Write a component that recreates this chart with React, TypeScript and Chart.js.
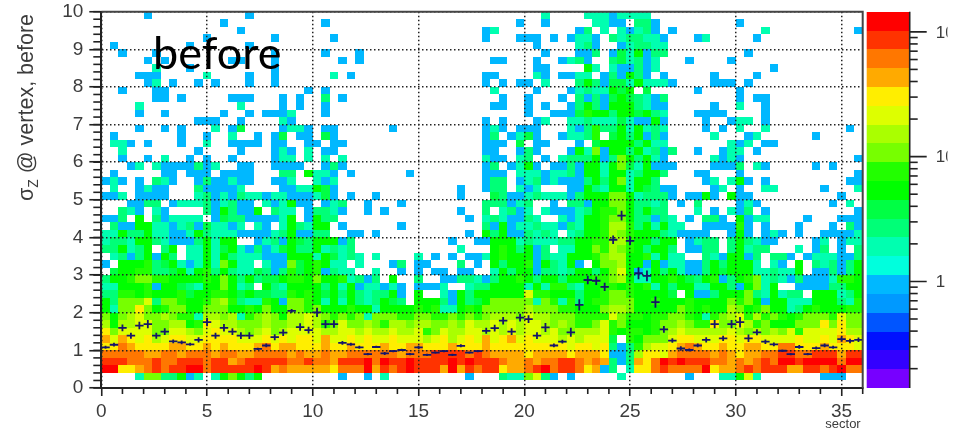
import { useEffect, useRef } from "react";
import { Chart, registerables } from "chart.js";

Chart.register(...registerables);

// Bin widths of the 2D histogram
const xBinWidth = 0.4;
const yBinWidth = 0.2;
const xMax = 36;
const yMax = 10;

// Heat-map levels, one string per y bin, from y = 10 down to y = 0 ('.' = empty); spaces only group columns
const levelRows = [
  ".....b.... .......b.. .......... .......... .......... ..d....ddd bdddd..... .......... ..........",
  ".......... ....b..... ......b... .......... .........b ..b.....dd bb.eeb.... .....b.... ..........",
  ".......... ......b... .......... .......... .....bd... ......be.d .dbdeb.b.. ........d. .........b",
  ".......... ..b....... b......b.. .......... .....b...b bb.b.bddb. edeeddb... bd.....b.. ..........",
  ".b........ b......b.. .......... .......... .......... .b....deb. .bdeedd... .......... ..........",
  "..b...b... .......... b.....b... b......... .......... ..b...bbe. bfdgbee... ......b... ..........",
  ".....b.b.. .....bb... b.......b. b......... ......bb.. .b..bdeb.. efdebd...b ....b..... ..........",
  "......d... b......... b......... .......... .......... .bb....gd. dbbebd.... .........b ..........",
  "....bbb... ..d....b.. b......d.b .......... .....bb... .db.bbdd.b ebgeb.b... ..b....b.. ..........",
  ".....bd.b. .b.b...b.. b......... .......... .....b.b.b b.d...egeb ffdgdddb.. ..bbb.b... ..........",
  "..b...bb.. .......... ....b.b... .......... ......d... .b...bdedd gfg.f..... b....b.... ..........",
  "......bb.b .....bbb.. .b.b..e.b. .......... .......b.. b...b.ebeb fgfedbe... .....b.bb. ..........",
  "....d..... ......d... .b.b..b... .......... ......bb.. b.b..begeb gggedbb... ..b..d..b. ..........",
  "....b..b.. ....b..b.b bbd...b... .......... .......... b..bbbfhgg eggfged... bbbb....b. ..........",
  ".......... .bbb..b... .db....... .......... .....b.b.. .bd..ddedd dfdbbgb... .b..bdd.b. ..........",
  "....b..b.b ...d.bf... .bddb.bb.. ....b..... .....bdb.b bb...dbehe egdgded... .b.b.d..d. ........b.",
  ".b.......b ..b..d..b. bf.bb.fb.. .......... .....be.bd fb..bddeh. fgegbeb... ..d...bd.. ....b.....",
  ".ddb.b...b ..d..bbbb. bb..bb.bb. .......... .....bbb.f .bb...b.fg gggegdd... ....dbd.bb ..........",
  "..d....... .b....b... bdb.d.bb.. .......... .....bb..b eb...bgdib ggegdebe.. b..bdd.b.. ..........",
  "..b..b.d.. b.b..b.... bdd.d.d.d. .......... .....dbb.d e.b.deeegb eigegdb... ..dbdb.... .........b",
  "...bd.dbbb bebd..bb.. bbbb..beb. .......... .....be.bd gb.bbebggd gifdgbbb.. ..bbbe.db. ....b.b...",
  ".b.....bb. bbb.bbbb.. .ee.gddb.b ......b... .....bbb.d ddbddebggd ggdegge... bb...b.... .........b",
  "bdb.b.edb. .bebbdbb.. bbd..dbd.. .......... .....bee.b debdbbbege gidgge.... .bd.dgb.b. ........bb",
  ".d..bdbb.. .ebbbbd... .bbddgfb.. .......... ..b..bee.d bd...bbged ggdgfebb.. ..bd.b..dd .....b...d",
  "bbd.bbbb.. .debdbeddb ddbbbdfb.b ..b....... ..b...febb dedddbeggg iigdeeeb.b bgb.gbb... .......b..",
  "...bbee.bd ddebdebb.d bdgbb.bde. .b...b.... .....eeebd e..b.eebgg iigeede.b. e....bdb.. ......b.d.",
  "..edb.db.. ..ebgebbg. edd.beedb. .b.b...... ..b..e.deb d.dbbbdegh higegee... d.b.dbe.b. .........b",
  "bbe.g.ebdd dd.bfeebbb bdg.bgee.. .......... ...b.dedbb ed..dbdggh iigeebed.b .eeb.gbdd. ...b...bbb",
  ".ebbggddbd ebfddbd.db .dgedgg.b. .....b.... .....ebgbd deddbedggh jjhegdgdd. .bbbbhb.b. ..b...b.eb",
  "ddgeegddbb dgedddbbbb degbbee..b b.b....... ...b.gegbb eded.deggh jihgggedbb bb..bgb.bd b.b..bbbbd",
  "deedggedbb begdgg..bd ebgfegggbe .......... .b..bbgggd edddeegghh jjhggegg.b dee.egedbb ....bd.bdd",
  "eegdeg.eg. ddgdfgdbeb dfgeegdede .......... ..d...ghge gbe.ddggih jihgegge.b bee.egdee. ..d.be.b.e",
  ".debegbge. ddgdgedddb bbgggdgfde d.d....d.b .b.bbdghgg gbeddggghi jjgghdgdd. .edbggbe.e eb.bdddbbe",
  "b.ggghefgd bdgdigdd.d bbifghgdd. d...be.bb. ..e.b.gegg hbgedgb.gi ijggbgbddb begegggd.d b.g.edebeg",
  ".fgghheefg dghegeddfe behfghbedd ..d..b.b.b b.bb..dgeg gbeedeggeg ikgbdgegdb begfgggdde ddg.bbebeg",
  "egghiihhgg gghgigegef fghhgigghd ebe.g..e.. bbeedbeggh geggeggghh ijgddgghgf eghbeghide dbebbbdhhg",
  "ddggghbggf edggigde.g edggggegdg bddbdb.bbb d..deegggg dgdhhedggh hghghdgegg ddggebgidg ..bbbbeegg",
  "eehhghgggh fgghhgfgff eehghgfgeg edeegb.g.. dbgegggggg khhgggeggh iihggggf.g bbegggiedg dee.gggdeg",
  "geiiikeiih gghijheddh gbiihgdgdg edegfe.ggg ebgefgiiii idihdheghh iiigghgggh ggggihigbg gdddgggedh",
  "gdiilighii ggiiigghgi ggiihigggh ggdgggghgh ddghgiiiii jiiihhgggi jjigggggih ghggjighig gdeghggghh",
  "igijkiijih hdjjijdhij igjjkjihih idiiihhiih hihihijjji kjjiiihhhh kihhghhiih gdhijkhjhi hghiiihkii",
  "jgjjkkiijj ghlkjjiiij iijjkjhiki ijihjjijji ijikjjkjkj kkjijihhik higgghiiji hhliikjhig ggiiililii",
  "likkkkiikk jiklkkjijk ijkkkkjjkk jkjjkjjkhi kjjkkjkjkj kkjkiijjjk hghhghijkj jjjjkjijij ikhkkkkljj",
  "mkmlkljkll kkllllkkkl klkllkmkkl klkklkkkjk ljklkmklmk lkkkjkjkkk f.hgiiikll kkkllkllkk kklkklkmlk",
  "llnmllllmm llmlmlllmn lmmlllmllm lllmllmmll lmlllmllll lllllkllkl ebehjkklmn mllmllmmll nnlllmlllk",
  "nnnnnmmnnm nnnmnnmmnn nnmnmmnmmn nnnnnmnnno ooononmmmm lmmmmlmmml bbejllkmnn nnmnmlmmnn oonnooomoo",
  "ooonnnonno oonoomnooo oonnonnmoo opnpoopooo opopooonmm nmnnoonmnm ebemlnpopo oonnmnmnon ppoppppnpp",
  "ppllmnonoo ppnooooopo mnmmmmmlnn npmonopooo mpmonoolmm nopnoonlmb e.dllnonnn nplmmnonoo ommoonopnn",
  "....diieeg bd.dgigeg. ........b. .b.d...... ...b...edd ikeb.b.... .d.......b ...ddgkd.. .....bbb..",
  ".......... .......... .......... .......... .......... .......... .......... .......... ..........",
];

// Which palette band each level letter stands for, and the palette from low to high
const levelCodes = "bcdefghijklmnop";
const firstCodedBand = 5;
const palette = [
  "#7700ff", "#3300ff", "#0011ff", "#0055ff", "#0099ff", "#00b8ff", "#00ffdd", "#00ffb0", "#00ff77", "#00ff44",
  "#00ff00", "#22ff00", "#77ff00", "#aaff00", "#ddff00", "#ffee00", "#ffaa00", "#ff7700", "#ff3300", "#ff0000",
];

// Profile (mean sigma_z per sector bin) and its error bars
const profileMean = [
  1.08, 1.15, 1.6, 1.39, 1.66, 1.7, 1.39, 1.5, 1.24, 1.21,
  1.16, 1.28, 1.75, 1.39, 1.6, 1.5, 1.39, 1.39, 1.04, 1.13,
  1.35, 1.47, 2.05, 1.62, 1.54, 2.01, 1.7, 1.7, 1.2, 1.16,
  1.08, 0.9, 1.09, 0.92, 0.98, 1.01, 0.9, 1.08, 0.88, 0.94,
  0.98, 0.88, 1.12, 0.94, 0.98, 1.52, 1.59, 1.79, 1.5, 1.87,
  1.83, 1.39, 1.61, 1.13, 1.23, 1.48, 2.21, 2.87, 2.85, 2.69,
  3.94, 4.58, 3.91, 3.05, 2.98, 2.28, 1.56, 1.26, 1.05, 1.01,
  1.13, 1.28, 1.7, 1.32, 1.7, 1.75, 1.32, 1.48, 1.23, 1.16,
  0.99, 0.9, 1.09, 0.9, 1.06, 1.13, 1.08, 1.3, 1.25, 1.28,
];
const profileError = [
  0.04, 0.05, 0.09, 0.08, 0.1, 0.11, 0.08, 0.09, 0.05, 0.05,
  0.04, 0.07, 0.11, 0.08, 0.1, 0.09, 0.09, 0.09, 0.03, 0.05,
  0.08, 0.09, 0.05, 0.1, 0.09, 0.12, 0.11, 0.1, 0.05, 0.04,
  0.04, 0.03, 0.03, 0.04, 0.03, 0.03, 0.03, 0.04, 0.03, 0.03,
  0.03, 0.03, 0.04, 0.03, 0.03, 0.08, 0.09, 0.1, 0.09, 0.1,
  0.1, 0.09, 0.12, 0.05, 0.05, 0.12, 0.15, 0.11, 0.11, 0.11,
  0.11, 0.13, 0.11, 0.16, 0.14, 0.15, 0.09, 0.06, 0.06, 0.04,
  0.05, 0.07, 0.11, 0.07, 0.11, 0.14, 0.1, 0.08, 0.06, 0.05,
  0.03, 0.03, 0.05, 0.03, 0.04, 0.05, 0.04, 0.07, 0.06, 0.06,
];

// Tick marks
const xMinorTicks = [
  1, 2, 3, 4, 6, 7, 8, 9, 11, 12, 13, 14, 16, 17, 18, 19, 21, 22, 23, 24, 26, 27, 28, 29, 31, 32, 33, 34, 36,
];
const zRange = [0.14, 145];
const zMajorTicks = [1, 10, 100];
const zMinorTicks = [0.2, 0.3, 0.4, 0.5, 0.6, 0.7, 0.8, 0.9, 2, 3, 4, 5, 6, 7, 8, 9, 20, 30, 40, 50, 60, 70, 80, 90];
const zLabels = ["1", "10", "10"];

const annotation = "before";
const yTitle = ["σ", "Z", " @ vertex, before"];
const xTitle = "sector";

const textColor = "#3c3c3c";
const axisFont = "Liberation Sans";

const heatPlugin = {
  id: "heat",
  beforeDatasetsDraw(chart: any) {
    const { ctx, scales } = chart;
    const { x, y } = scales;
    levelRows.forEach((raw, rowIndex) => {
      const row = raw.replace(/ /g, "");
      const top = yMax - rowIndex * yBinWidth;
      const py0 = Math.round(y.getPixelForValue(top));
      const py1 = Math.round(y.getPixelForValue(top - yBinWidth));
      for (let c = 0; c < row.length; c++) {
        const code = levelCodes.indexOf(row[c]);
        if (code < 0) continue;
        const px0 = Math.round(x.getPixelForValue(c * xBinWidth));
        const px1 = Math.round(x.getPixelForValue((c + 1) * xBinWidth));
        ctx.fillStyle = palette[code + firstCodedBand];
        ctx.fillRect(px0, py0, px1 - px0, py1 - py0);
      }
    });
  },
};

const framePlugin = {
  id: "frame",
  afterDraw(chart: any) {
    const { ctx, scales, chartArea } = chart;
    const { x, y, z } = scales;
    ctx.save();

    // Profile crosses
    ctx.strokeStyle = "#15156b";
    ctx.lineWidth = 1.8;
    profileMean.forEach((mean, i) => {
      const cx = (i + 0.5) * xBinWidth;
      ctx.beginPath();
      ctx.moveTo(x.getPixelForValue(cx - xBinWidth / 2), y.getPixelForValue(mean));
      ctx.lineTo(x.getPixelForValue(cx + xBinWidth / 2), y.getPixelForValue(mean));
      ctx.moveTo(x.getPixelForValue(cx), y.getPixelForValue(mean - profileError[i]));
      ctx.lineTo(x.getPixelForValue(cx), y.getPixelForValue(mean + profileError[i]));
      ctx.stroke();
    });

    // Frame top and right
    ctx.strokeStyle = "#444";
    ctx.lineWidth = 2;
    ctx.beginPath();
    ctx.moveTo(chartArea.left, chartArea.top);
    ctx.lineTo(chartArea.right, chartArea.top);
    ctx.lineTo(chartArea.right, chartArea.bottom);
    ctx.stroke();

    // Minor ticks
    ctx.strokeStyle = "#222";
    ctx.lineWidth = 1.6;
    xMinorTicks.forEach((t) => {
      const px = x.getPixelForValue(t);
      ctx.beginPath();
      ctx.moveTo(px, chartArea.bottom);
      ctx.lineTo(px, chartArea.bottom + 6);
      ctx.stroke();
    });
    for (let v = 0; v <= yMax + 1e-6; v += yBinWidth) {
      const py = y.getPixelForValue(v);
      ctx.beginPath();
      ctx.moveTo(chartArea.left, py);
      ctx.lineTo(chartArea.left - 8, py);
      ctx.stroke();
    }

    // Colour bar, bands spaced evenly in log z
    const barLeft = chartArea.right + 4;
    const barRight = chartArea.right + 47;
    const logMin = Math.log10(zRange[0]);
    const logStep = (Math.log10(zRange[1]) - logMin) / palette.length;
    palette.forEach((color, i) => {
      const y0 = Math.round(z.getPixelForValue(Math.pow(10, logMin + i * logStep)));
      const y1 = Math.round(z.getPixelForValue(Math.pow(10, logMin + (i + 1) * logStep)));
      ctx.fillStyle = color;
      ctx.fillRect(barLeft, y1, barRight - barLeft, y0 - y1);
    });
    ctx.strokeStyle = "#222";
    ctx.lineWidth = 1.6;
    ctx.beginPath();
    ctx.moveTo(barRight, chartArea.top);
    ctx.lineTo(barRight, chartArea.bottom);
    ctx.stroke();
    zMinorTicks.forEach((t) => {
      const py = z.getPixelForValue(t);
      ctx.beginPath();
      ctx.moveTo(barRight, py);
      ctx.lineTo(barRight + 8, py);
      ctx.stroke();
    });
    ctx.save();
    ctx.beginPath();
    ctx.rect(barRight, 0, 947.5 - barRight, chart.height);
    ctx.clip();
    zMajorTicks.forEach((t, i) => {
      const py = z.getPixelForValue(t);
      ctx.beginPath();
      ctx.moveTo(barRight, py);
      ctx.lineTo(barRight + 17, py);
      ctx.stroke();
      ctx.fillStyle = textColor;
      ctx.font = `17px "${axisFont}"`;
      ctx.textAlign = "left";
      ctx.textBaseline = "middle";
      ctx.fillText(zLabels[i], barRight + 26, py + 1);
    });
    ctx.restore();

    // Axis titles
    ctx.fillStyle = textColor;
    ctx.font = `13px "${axisFont}"`;
    ctx.textAlign = "right";
    ctx.textBaseline = "alphabetic";
    ctx.fillText(xTitle, chartArea.right - 2, 428);

    ctx.save();
    ctx.translate(33, 201);
    ctx.rotate(-Math.PI / 2);
    ctx.textAlign = "left";
    ctx.font = `21.5px "${axisFont}"`;
    ctx.fillText(yTitle[0], 0, 0);
    let offset = ctx.measureText(yTitle[0]).width;
    ctx.font = `14px "${axisFont}"`;
    ctx.fillText(yTitle[1], offset, 5);
    offset += ctx.measureText(yTitle[1]).width;
    ctx.font = `21.5px "${axisFont}"`;
    ctx.fillText(yTitle[2], offset, 0);
    ctx.restore();

    // Pasted annotation
    ctx.fillStyle = "#000";
    ctx.font = "45px Lato";
    ctx.textAlign = "left";
    ctx.textBaseline = "alphabetic";
    ctx.fillText(annotation, 153, 69);

    ctx.restore();
  },
};

export default function App() {
  const ref = useRef<HTMLCanvasElement>(null);
  useEffect(() => {
    if (!ref.current) return;
    const chart = new Chart(ref.current, {
      type: "scatter",
      data: {
        datasets: [
          {
            label: "profile",
            data: profileMean.map((m, i) => ({ x: (i + 0.5) * xBinWidth, y: m })),
            pointRadius: 0,
            showLine: false,
          },
        ],
      },
      plugins: [heatPlugin, framePlugin],
      options: {
        animation: false,
        responsive: false,
        layout: { padding: { top: 11.7, right: 90.3, left: 0, bottom: 0 } },
        plugins: { legend: { display: false }, tooltip: { enabled: false }, title: { display: false } },
        scales: {
          x: {
            type: "linear",
            min: 0,
            max: xMax,
            afterFit: (s: any) => {
              s.height = 45;
              s.paddingLeft = 0;
              s.paddingRight = 0;
            },
            border: { display: true, color: "#222", width: 2, dash: [1.5, 2.5], z: 2 },
            grid: {
              z: 1,
              color: "#222",
              lineWidth: 1.5,
              drawTicks: true,
              tickLength: 8,
              tickColor: "#222",
              tickWidth: 1.6,
              tickBorderDash: [],
            },
            ticks: {
              stepSize: 5,
              includeBounds: false,
              autoSkip: false,
              maxRotation: 0,
              padding: 4,
              color: textColor,
              font: { family: axisFont, size: 19 },
            },
          },
          y: {
            type: "linear",
            min: 0,
            max: yMax,
            afterFit: (s: any) => {
              s.width = 101.3;
              s.paddingTop = 0;
              s.paddingBottom = 0;
            },
            border: { display: true, color: "#222", width: 2, dash: [1.5, 2.5], z: 2 },
            grid: {
              z: 1,
              color: "#222",
              lineWidth: 1.5,
              drawTicks: true,
              tickLength: 12,
              tickColor: "#222",
              tickWidth: 1.6,
              tickBorderDash: [],
            },
            ticks: {
              stepSize: 1,
              autoSkip: false,
              padding: 6,
              color: textColor,
              font: { family: axisFont, size: 19 },
            },
          },
          z: {
            type: "logarithmic",
            axis: "y",
            position: "right",
            display: false,
            min: zRange[0],
            max: zRange[1],
          },
        },
      },
    } as any);
    return () => chart.destroy();
  }, []);
  return (
    <div style={{ position: "fixed", left: 0, top: 0, width: 953, height: 433, background: "#fff" }}>
      <canvas ref={ref} width={953} height={433} style={{ display: "block" }} />
    </div>
  );
}
